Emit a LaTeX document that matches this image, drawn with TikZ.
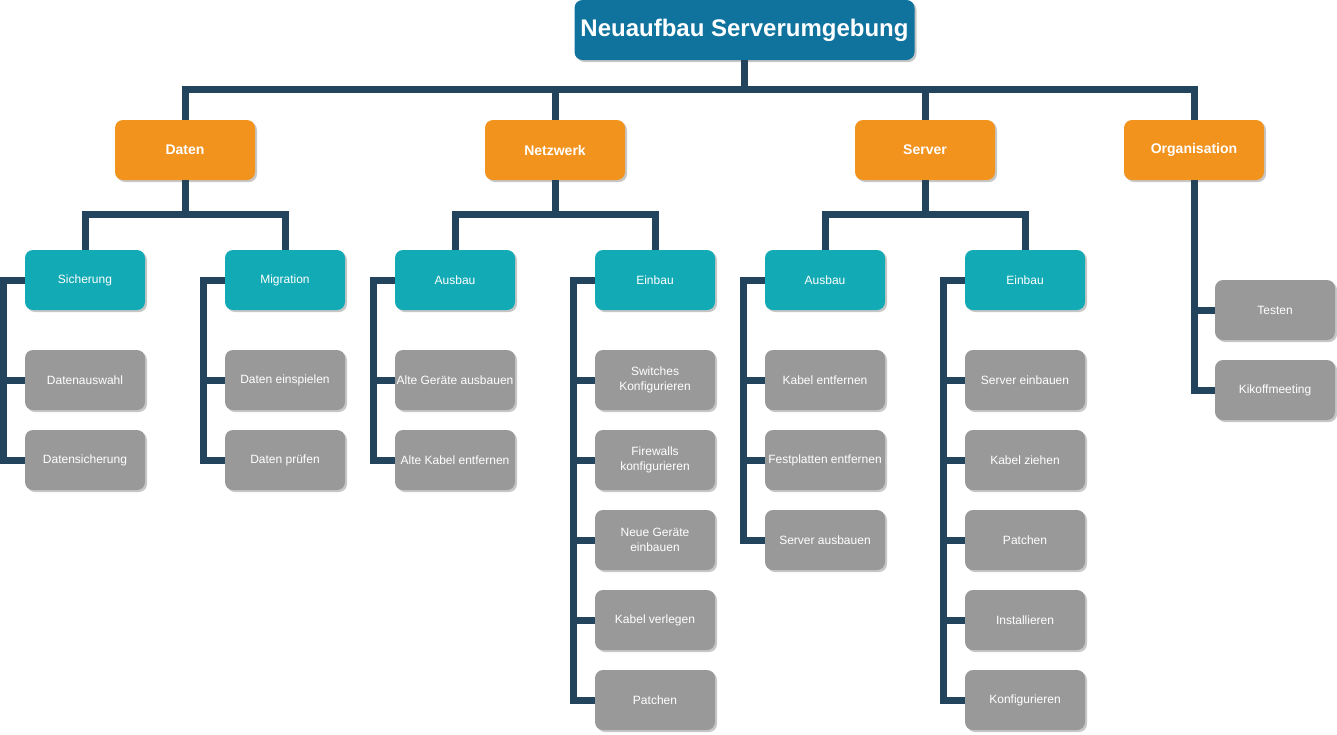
\documentclass[tikz,border=0pt]{standalone}
\usepackage{fontspec}
\setmainfont{Liberation Sans}
\usetikzlibrary{shadows}
\definecolor{rootblue}{HTML}{10739E}
\definecolor{areaorange}{HTML}{F2931E}
\definecolor{groupteal}{HTML}{12AAB5}
\definecolor{taskgray}{HTML}{999999}
\definecolor{linkblue}{HTML}{23445D}
\tikzset{
  box/.style={rounded corners=8pt, minimum height=60pt, inner sep=0pt,
    text=white, align=center,
    drop shadow={shadow xshift=2pt, shadow yshift=-2pt, fill=black, opacity=0.22}
  },
  rootbox/.style={box, fill=rootblue, minimum width=340pt,
    font=\bfseries\fontsize{24}{28}\selectfont},
  areabox/.style={box, fill=areaorange, minimum width=140pt,
    font=\bfseries\fontsize{14}{17}\selectfont},
  groupbox/.style={box, fill=groupteal, minimum width=120pt,
    font=\fontsize{12}{15}\selectfont},
  taskbox/.style={box, fill=taskgray, minimum width=120pt,
    font=\fontsize{12}{15}\selectfont},
  link/.style={draw=linkblue, line width=7pt},
}

\begin{document}
\begin{tikzpicture}[x=1pt,y=-1pt]
\useasboundingbox (0,0) rectangle (1337,734);
\node[rootbox] (root) at (744.5,30) {Neuaufbau Serverumgebung};
\node[areabox] (daten) at (185,150) {Daten};
\node[areabox] (netz) at (555,150) {Netzwerk};
\node[areabox] (server) at (925,150) {Server};
\node[areabox] (orga) at (1194,150) {Organisation};
% second level
\node[groupbox] (sich) at (85,280) {Sicherung};
\node[groupbox] (migr) at (285,280) {Migration};
\node[groupbox] (nausb) at (455,280) {Ausbau};
\node[groupbox] (neinb) at (655,280) {Einbau};
\node[groupbox] (sausb) at (825,280) {Ausbau};
\node[groupbox] (seinb) at (1025,280) {Einbau};
% tasks
\node[taskbox] (dauswahl) at (85,380) {Datenauswahl};
\node[taskbox] (dsich) at (85,460) {Datensicherung};
\node[taskbox] (deinsp) at (285,380) {Daten einspielen};
\node[taskbox] (dpruef) at (285,460) {Daten prüfen};
\node[taskbox] (altger) at (455,380) {Alte Geräte ausbauen};
\node[taskbox] (altkab) at (455,460) {Alte Kabel entfernen};
\node[taskbox] (switch) at (655,380) {Switches\\Konfigurieren};
\node[taskbox] (firew) at (655,460) {Firewalls\\konfigurieren};
\node[taskbox] (neuger) at (655,540) {Neue Geräte\\einbauen};
\node[taskbox] (kabverl) at (655,620) {Kabel verlegen};
\node[taskbox] (npatch) at (655,700) {Patchen};
\node[taskbox] (kabentf) at (825,380) {Kabel entfernen};
\node[taskbox] (festpl) at (825,460) {Festplatten entfernen};
\node[taskbox] (servaus) at (825,540) {Server ausbauen};
\node[taskbox] (serveinb) at (1025,380) {Server einbauen};
\node[taskbox] (kabzieh) at (1025,460) {Kabel ziehen};
\node[taskbox] (spatch) at (1025,540) {Patchen};
\node[taskbox] (install) at (1025,620) {Installieren};
\node[taskbox] (konfig) at (1025,700) {Konfigurieren};
\node[taskbox] (testen) at (1275,310) {Testen};
\node[taskbox] (kickoff) at (1275,390) {Kikoffmeeting};
% connectors
\foreach \n in {daten,netz,server,orga}
  \draw[link]
    (root.south) -- ++(0,29) -| (\n.north);
\foreach \a/\b in {daten/sich,daten/migr,netz/nausb,netz/neinb,server/sausb,server/seinb}
  \draw[link]
    (\a.south) -- ++(0,34) -| (\b.north);
\foreach \a/\b in {sich/dauswahl,sich/dsich,migr/deinsp,migr/dpruef,
    nausb/altger,nausb/altkab,neinb/switch,neinb/firew,neinb/neuger,
    neinb/kabverl,neinb/npatch,sausb/kabentf,sausb/festpl,sausb/servaus,
    seinb/serveinb,seinb/kabzieh,seinb/spatch,seinb/install,seinb/konfig}
  \draw[link]
    (\a.west) -- ++(-21,0) |- (\b.west);
\draw[link]
  (orga.south) |- (testen.west);
\draw[link]
  (orga.south) |- (kickoff.west);
\end{tikzpicture}
\end{document}
